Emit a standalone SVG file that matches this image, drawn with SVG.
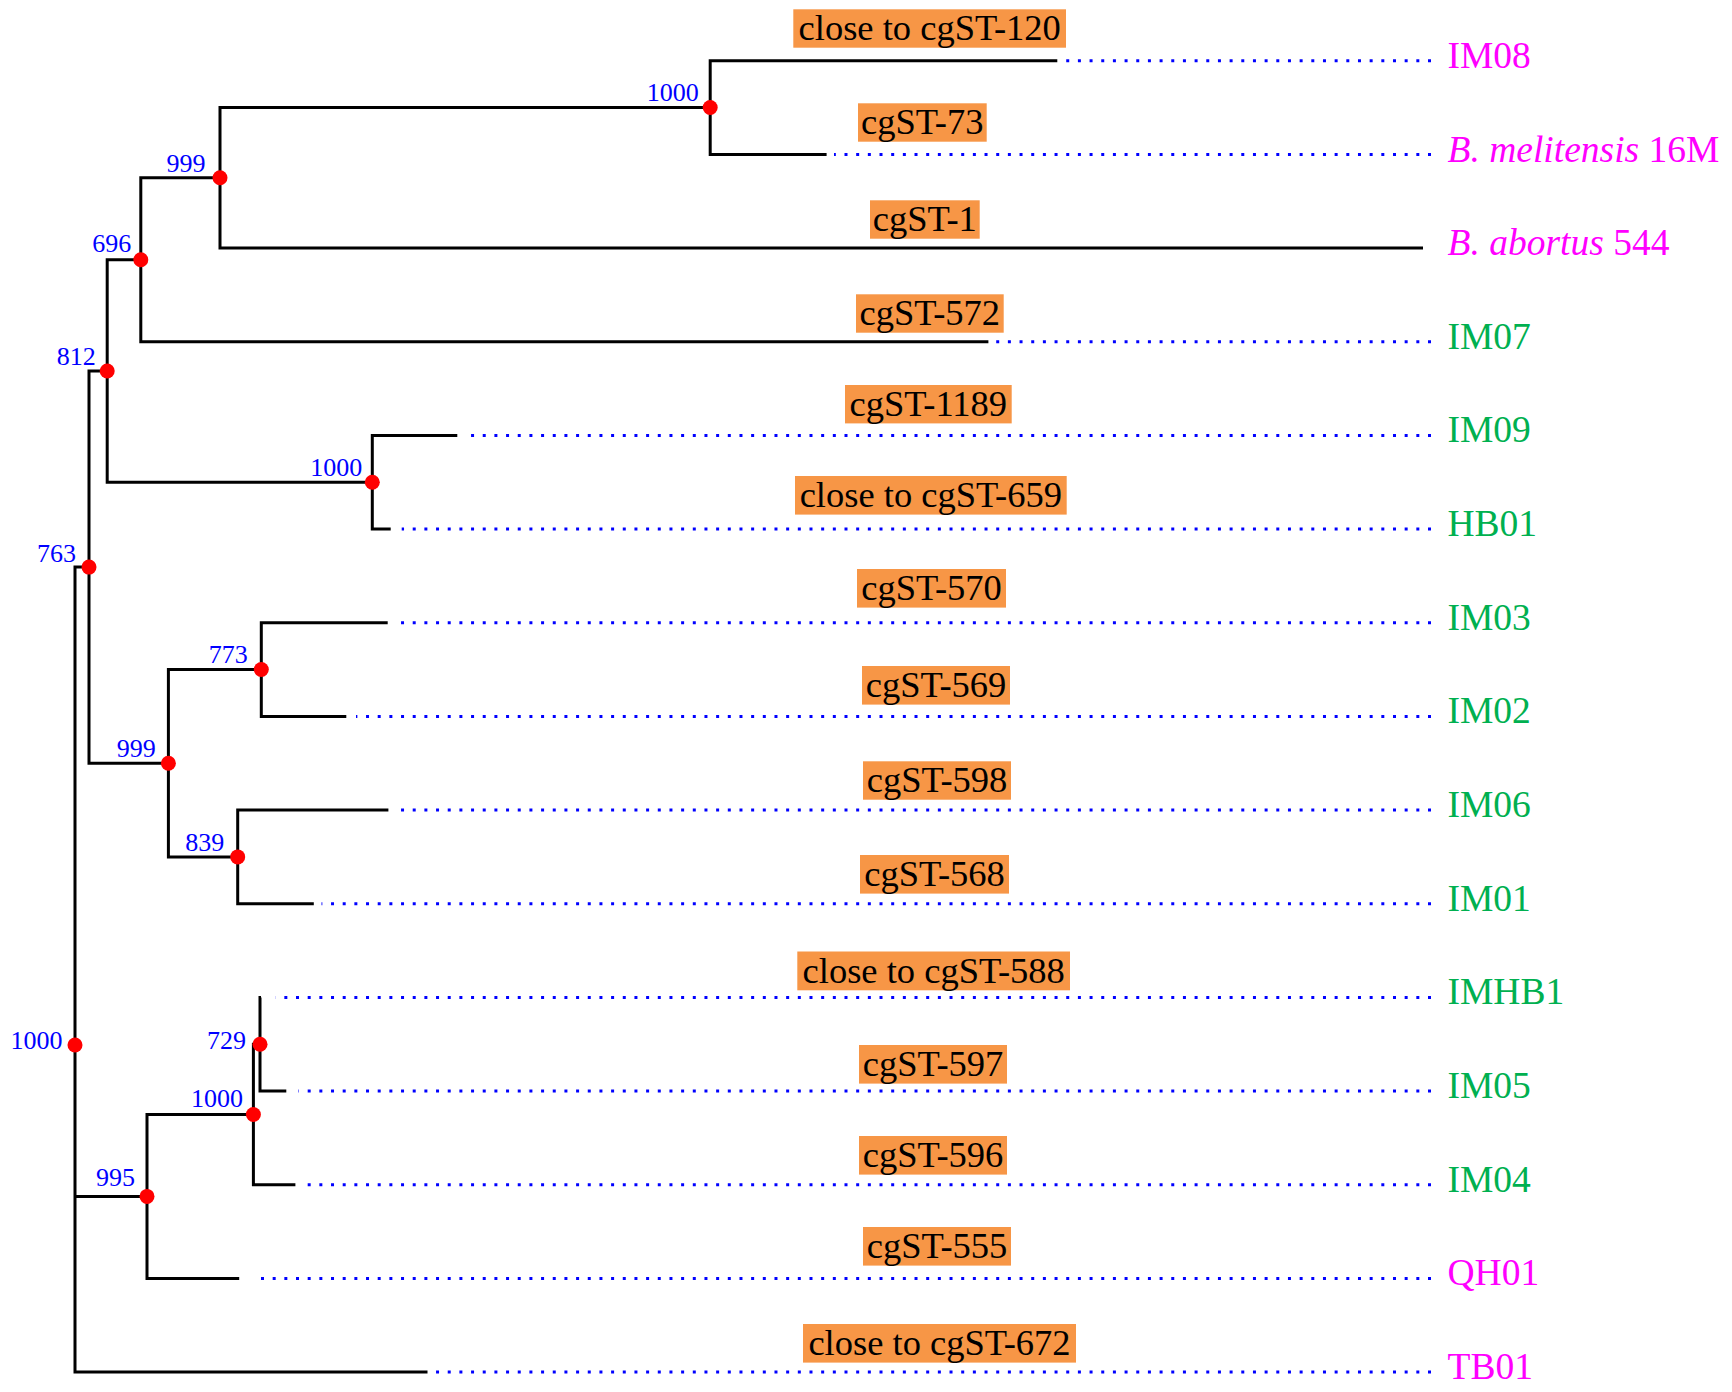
<svg xmlns="http://www.w3.org/2000/svg" width="1732" height="1392" viewBox="0 0 1732 1392">
<style>
.br{fill:none;stroke:#000;stroke-width:3;stroke-linejoin:miter;stroke-linecap:butt}
.dt{fill:none;stroke:#0000FF;stroke-width:3;stroke-dasharray:3 8.67}
.nd{fill:#FF0000}
.bs{font-family:"Liberation Serif","Times New Roman",serif;font-size:26px;fill:#0000FF;text-anchor:end}
.box{fill:#F79646}
.st{font-family:"Liberation Serif","Times New Roman",serif;font-size:36.5px;fill:#000;text-anchor:middle}
.lb{font-family:"Liberation Serif","Times New Roman",serif;font-size:37.5px}
.mg{fill:#FF00FF}
.gn{fill:#00B050}
</style>
<rect width="1732" height="1392" fill="#fff"/>
<g id="connectors">
<path class="br" d="M1057.3 60.7H710.2V154.4H826.6"/>
<path class="br" d="M710.2 107.5H220V248H1423"/>
<path class="br" d="M220 177.8H140.8V341.7H988.4"/>
<path class="br" d="M457.3 435.4H372.3V529H390.7"/>
<path class="br" d="M140.8 259.8H107.2V482.2H372.3"/>
<path class="br" d="M387.7 622.7H261.3V716.4H346.3"/>
<path class="br" d="M388.4 810H237.7V903.7H313.8"/>
<path class="br" d="M261.3 669.5H168.4V856.9H237.7"/>
<path class="br" d="M107.2 371H89V763.2H168.4"/>
<path class="br" d="M261 997.4H260V1091H286.3"/>
<path class="br" d="M260 1044.2H253.4V1184.7H295.4"/>
<path class="br" d="M253.4 1114.5H147V1278.4H239.2"/>
<path class="br" d="M89 567.1H75V1372H427.5M75 1196.4H147"/>
<path class="dt" d="M1431 60.7H1063"/>
<path class="dt" d="M1431 154.4H834"/>
<path class="dt" d="M1431 341.7H993.5"/>
<path class="dt" d="M1431 435.4H470"/>
<path class="dt" d="M1431 529H401.7"/>
<path class="dt" d="M1431 622.7H400"/>
<path class="dt" d="M1431 716.4H356"/>
<path class="dt" d="M1431 810H400"/>
<path class="dt" d="M1431 903.7H321.5"/>
<path class="dt" d="M1431 997.4H275.5"/>
<path class="dt" d="M1431 1091H298.5"/>
<path class="dt" d="M1431 1184.7H302"/>
<path class="dt" d="M1431 1278.4H252.6"/>
<path class="dt" d="M1431 1372H436"/>
</g>
<g id="node-1000a"><circle class="nd" cx="710.2" cy="107.5" r="7.5"/><text class="bs" x="698.7" y="101">1000</text></g>
<g id="node-999a"><circle class="nd" cx="220" cy="177.8" r="7.5"/><text class="bs" x="205.5" y="172">999</text></g>
<g id="node-696"><circle class="nd" cx="140.8" cy="259.8" r="7.5"/><text class="bs" x="131.3" y="252.3">696</text></g>
<g id="node-812"><circle class="nd" cx="107.2" cy="371" r="7.5"/><text class="bs" x="95.7" y="365">812</text></g>
<g id="node-1000b"><circle class="nd" cx="372.3" cy="482.2" r="7.5"/><text class="bs" x="362.3" y="476">1000</text></g>
<g id="node-763"><circle class="nd" cx="89" cy="567.1" r="7.5"/><text class="bs" x="76" y="561.7">763</text></g>
<g id="node-773"><circle class="nd" cx="261.3" cy="669.5" r="7.5"/><text class="bs" x="247.7" y="662.7">773</text></g>
<g id="node-999b"><circle class="nd" cx="168.4" cy="763.2" r="7.5"/><text class="bs" x="155.8" y="756.7">999</text></g>
<g id="node-839"><circle class="nd" cx="237.7" cy="856.9" r="7.5"/><text class="bs" x="224.3" y="850.7">839</text></g>
<g id="node-root"><circle class="nd" cx="75" cy="1045" r="7.5"/><text class="bs" x="62.4" y="1049">1000</text></g>
<g id="node-729"><circle class="nd" cx="260" cy="1044.2" r="7.5"/><text class="bs" x="246" y="1049">729</text></g>
<g id="node-1000c"><circle class="nd" cx="253.4" cy="1114.5" r="7.5"/><text class="bs" x="243" y="1107.3">1000</text></g>
<g id="node-995"><circle class="nd" cx="147" cy="1196.4" r="7.5"/><text class="bs" x="135" y="1186">995</text></g>
<g id="leaf-IM08"><rect class="box" x="793.3" y="9.3" width="272.7" height="38.4"/><text class="st" x="929.7" y="40.4">close to cgST-120</text><text class="lb mg" x="1447.5" y="68">IM08</text></g>
<g id="leaf-melitensis"><rect class="box" x="858" y="103.3" width="128.7" height="38.4"/><text class="st" x="922.3" y="134.4">cgST-73</text><text class="lb mg" x="1447.5" y="161.5"><tspan font-style="italic">B. melitensis</tspan> 16M</text></g>
<g id="leaf-abortus"><rect class="box" x="870" y="200.3" width="109.7" height="38.4"/><text class="st" x="924.8" y="231.4">cgST-1</text><text class="lb mg" x="1447.5" y="255"><tspan font-style="italic">B. abortus</tspan> 544</text></g>
<g id="leaf-IM07"><rect class="box" x="856" y="294.3" width="147.7" height="38.4"/><text class="st" x="929.8" y="325.4">cgST-572</text><text class="lb gn" x="1447.5" y="348.7">IM07</text></g>
<g id="leaf-IM09"><rect class="box" x="845" y="385" width="166.7" height="38.4"/><text class="st" x="928.3" y="416.1">cgST-1189</text><text class="lb gn" x="1447.5" y="442.4">IM09</text></g>
<g id="leaf-HB01"><rect class="box" x="795" y="476" width="271.7" height="38.6"/><text class="st" x="930.8" y="507.3">close to cgST-659</text><text class="lb gn" x="1447.5" y="536">HB01</text></g>
<g id="leaf-IM03"><rect class="box" x="857" y="569" width="149" height="38.6"/><text class="st" x="931.5" y="600.3">cgST-570</text><text class="lb gn" x="1447.5" y="629.7">IM03</text></g>
<g id="leaf-IM02"><rect class="box" x="862" y="666" width="148" height="38.6"/><text class="st" x="936" y="697.3">cgST-569</text><text class="lb gn" x="1447.5" y="723.4">IM02</text></g>
<g id="leaf-IM06"><rect class="box" x="863" y="761.3" width="148" height="38.4"/><text class="st" x="937" y="792.4">cgST-598</text><text class="lb gn" x="1447.5" y="817">IM06</text></g>
<g id="leaf-IM01"><rect class="box" x="860" y="855" width="149" height="38.6"/><text class="st" x="934.5" y="886.3">cgST-568</text><text class="lb gn" x="1447.5" y="910.7">IM01</text></g>
<g id="leaf-IMHB1"><rect class="box" x="797.3" y="951.5" width="272.7" height="38.8"/><text class="st" x="933.7" y="983">close to cgST-588</text><text class="lb gn" x="1447.5" y="1004.4">IMHB1</text></g>
<g id="leaf-IM05"><rect class="box" x="859" y="1045" width="148" height="38.6"/><text class="st" x="933" y="1076.3">cgST-597</text><text class="lb gn" x="1447.5" y="1098">IM05</text></g>
<g id="leaf-IM04"><rect class="box" x="859" y="1136" width="148" height="38.6"/><text class="st" x="933" y="1167.3">cgST-596</text><text class="lb gn" x="1447.5" y="1191.7">IM04</text></g>
<g id="leaf-QH01"><rect class="box" x="863" y="1227" width="148" height="38.6"/><text class="st" x="937" y="1258.3">cgST-555</text><text class="lb mg" x="1447.5" y="1285.4">QH01</text></g>
<g id="leaf-TB01"><rect class="box" x="803" y="1324" width="273" height="38.6"/><text class="st" x="939.5" y="1355.3">close to cgST-672</text><text class="lb mg" x="1447.5" y="1379">TB01</text></g>
</svg>
